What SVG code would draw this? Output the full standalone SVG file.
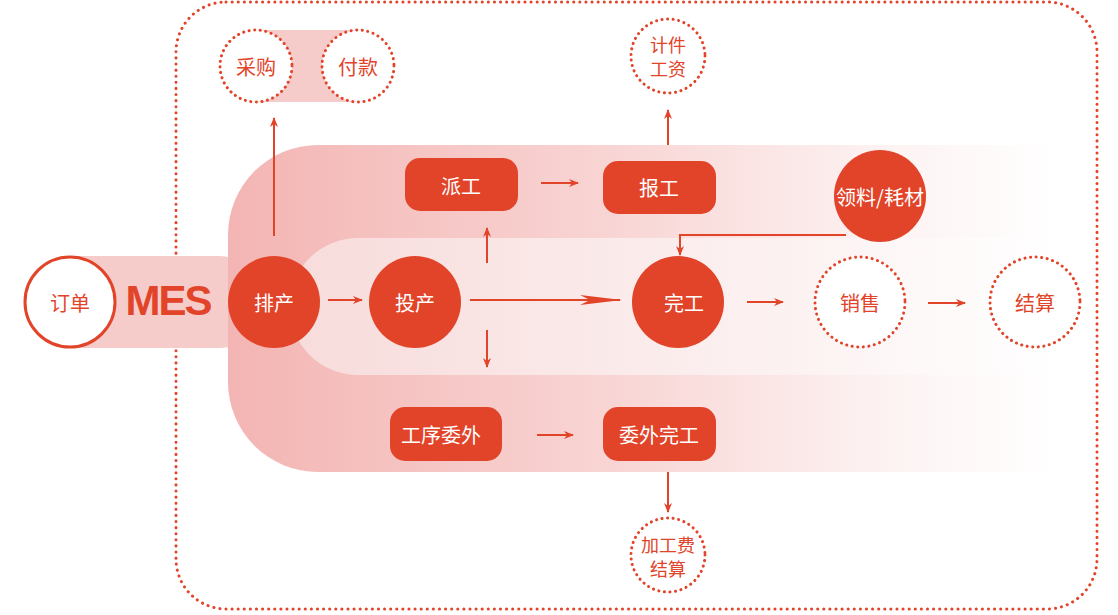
<svg xmlns="http://www.w3.org/2000/svg" width="1118" height="615" viewBox="0 0 1118 615">
<defs>
<linearGradient id="gBig" x1="228" y1="0" x2="1060" y2="0" gradientUnits="userSpaceOnUse">
<stop offset="0" stop-color="#f3b5b3"/><stop offset="0.45" stop-color="#f8d4d3"/><stop offset="0.8" stop-color="#fdf3f3"/><stop offset="1" stop-color="#ffffff"/></linearGradient>
<linearGradient id="gIn" x1="290" y1="0" x2="1060" y2="0" gradientUnits="userSpaceOnUse">
<stop offset="0" stop-color="#f7dcdb"/><stop offset="0.6" stop-color="#fcf0f0"/><stop offset="1" stop-color="#ffffff"/></linearGradient>
<marker id="ah" viewBox="0 0 10 10" refX="9" refY="5" markerWidth="10" markerHeight="10" markerUnits="userSpaceOnUse" orient="auto"><path d="M0,1 L10,5 L0,9 L3,5 Z" fill="#e2442a"/></marker>
</defs>
<style>
.fill{fill:#e2442a}
.dot{fill:#fff;stroke:#e2442a;stroke-width:3;stroke-dasharray:0.1 5.5;stroke-linecap:round}
.w{fill:#fff;font-family:"Noto Sans CJK SC",sans-serif;font-size:20px;text-anchor:middle;dominant-baseline:central}
.r{fill:#e2442a;font-family:"Noto Sans CJK SC",sans-serif;font-size:20px;text-anchor:middle;dominant-baseline:central}
.s{font-size:18px}
.ln{stroke:#e2442a;stroke-width:2;fill:none;marker-end:url(#ah)}
</style>
<rect x="176" y="2" width="921" height="607" rx="50" fill="none" stroke="#e2442a" stroke-width="3" stroke-dasharray="0.1 6" stroke-linecap="round"/>
<rect x="25" y="256" width="240" height="92" rx="46" fill="#f6cccb"/>
<path d="M318,145 H1060 V472 H318 A90,90 0 0 1 228,382 V235 A90,90 0 0 1 318,145 Z" fill="url(#gBig)"/>
<path d="M358,238 H1060 V375 H358 A68.5,68.5 0 0 1 358,238 Z" fill="url(#gIn)"/>
<rect x="256" y="30" width="102" height="72" fill="#f6cccb"/>
<g id="connectors">
<path class="ln" d="M274,236 V118"/>
<path class="ln" d="M328,300 H362"/>
<path class="ln" d="M487,263 V228"/>
<path class="ln" d="M487,330 V367"/>
<path d="M470,300 H620" stroke="#e2442a" stroke-width="2"/>
<path d="M580,295 L622,300 L580,305 L590,300 Z" fill="#e2442a"/>
<path class="ln" d="M541,183 H578"/>
<path class="ln" d="M668,145 V110"/>
<path class="ln" d="M846,235 H680 V255"/>
<path class="ln" d="M747,302 H783"/>
<path class="ln" d="M928,303 H965"/>
<path class="ln" d="M537,435 H573"/>
<path class="ln" d="M668,472 V512"/>
</g>
<g id="dingdan"><circle cx="70" cy="302" r="45" fill="#fff" stroke="#e2442a" stroke-width="3"/><text class="r" x="70" y="302">订单</text></g>
<g id="mes"><text x="168" y="300" fill="#e2442a" font-family="Liberation Sans,Arial,sans-serif" font-weight="bold" font-size="42" letter-spacing="-2" text-anchor="middle" dominant-baseline="central">MES</text></g>
<g id="paichan"><circle class="fill" cx="274" cy="302" r="46"/><text class="w" x="274" y="302">排产</text></g>
<g id="touchan"><circle class="fill" cx="415" cy="302" r="46"/><text class="w" x="415" y="302">投产</text></g>
<g id="wangong"><circle class="fill" cx="678" cy="302" r="46"/><text class="w" x="684" y="302">完工</text></g>
<g id="lingliao"><circle class="fill" cx="880" cy="196" r="46"/><text class="w" x="880" y="196" font-size="18">领料/耗材</text></g>
<g id="xiaoshou"><circle class="dot" cx="860" cy="302" r="45"/><text class="r" x="860" y="302">销售</text></g>
<g id="jiesuan"><circle class="dot" cx="1035" cy="302" r="45"/><text class="r" x="1035" y="302">结算</text></g>
<g id="paigong"><rect class="fill" x="405" y="158" width="113" height="53" rx="15"/><text class="w" x="461" y="185">派工</text></g>
<g id="baogong"><rect class="fill" x="603" y="161" width="113" height="53" rx="15"/><text class="w" x="659" y="187">报工</text></g>
<g id="gongxu"><rect class="fill" x="390" y="407" width="112" height="54" rx="15"/><text class="w" x="441" y="434">工序委外</text></g>
<g id="weiwai"><rect class="fill" x="603" y="407" width="113" height="54" rx="15"/><text class="w" x="659" y="434">委外完工</text></g>
<g id="caigou"><circle class="dot" cx="256" cy="66" r="36"/><text class="r" x="256" y="66">采购</text></g>
<g id="fukuan"><circle class="dot" cx="358" cy="66" r="36"/><text class="r" x="358" y="66">付款</text></g>
<g id="jijian"><circle class="dot" cx="668" cy="56" r="37"/><text class="r s" x="668" y="44">计件</text><text class="r s" x="668" y="68">工资</text></g>
<g id="jiagongfei"><circle class="dot" cx="668" cy="555" r="37"/><text class="r s" x="668" y="544">加工费</text><text class="r s" x="668" y="568">结算</text></g>
</svg>
